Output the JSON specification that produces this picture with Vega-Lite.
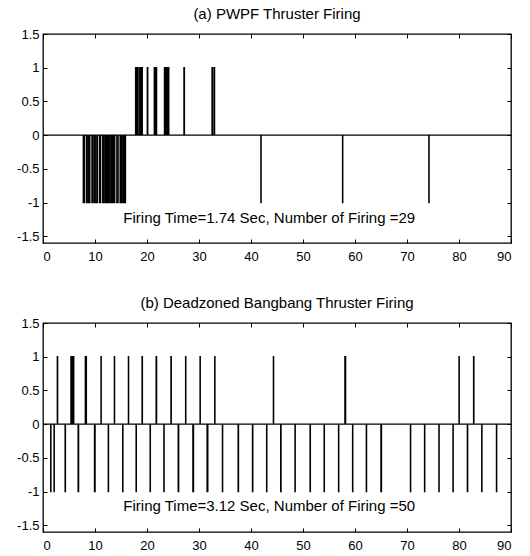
{
  "$schema": "https://vega.github.io/schema/vega-lite/v6.json",
  "padding": {"top": 6, "left": 15, "right": 5, "bottom": 5},
  "spacing": 31,
  "datasets": {
    "a": [
      {"t": 0, "v": 0},
      {"t": 7.74, "v": -1}, {"t": 7.99, "v": 0},
      {"t": 8.37, "v": -1}, {"t": 8.5, "v": 0},
      {"t": 8.76, "v": -1}, {"t": 9.02, "v": 0},
      {"t": 9.41, "v": -1}, {"t": 9.52, "v": 0},
      {"t": 9.8, "v": -1}, {"t": 9.92, "v": 0},
      {"t": 10.18, "v": -1}, {"t": 10.45, "v": 0},
      {"t": 10.84, "v": -1}, {"t": 11.09, "v": 0},
      {"t": 11.48, "v": -1}, {"t": 11.6, "v": 0},
      {"t": 11.87, "v": -1}, {"t": 12.0, "v": 0},
      {"t": 12.12, "v": -1}, {"t": 12.2, "v": 0},
      {"t": 12.3, "v": -1}, {"t": 12.38, "v": 0},
      {"t": 12.48, "v": -1}, {"t": 12.56, "v": 0},
      {"t": 12.66, "v": -1}, {"t": 12.74, "v": 0},
      {"t": 12.82, "v": -1}, {"t": 12.89, "v": 0},
      {"t": 13.16, "v": -1}, {"t": 13.3, "v": 0},
      {"t": 13.55, "v": -1}, {"t": 13.8, "v": 0},
      {"t": 14.19, "v": -1}, {"t": 14.45, "v": 0},
      {"t": 14.83, "v": -1}, {"t": 15.0, "v": 0},
      {"t": 15.22, "v": -1}, {"t": 15.48, "v": 0},
      {"t": 15.7, "v": -1}, {"t": 15.87, "v": 0},
      {"t": 17.8, "v": 1}, {"t": 17.95, "v": 0},
      {"t": 18.15, "v": 1}, {"t": 18.3, "v": 0},
      {"t": 18.6, "v": 1}, {"t": 18.75, "v": 0},
      {"t": 18.95, "v": 1}, {"t": 19.1, "v": 0},
      {"t": 20.05, "v": 1}, {"t": 20.15, "v": 0},
      {"t": 21.4, "v": 1}, {"t": 21.55, "v": 0},
      {"t": 21.7, "v": 1}, {"t": 21.85, "v": 0},
      {"t": 23.35, "v": 1}, {"t": 23.5, "v": 0},
      {"t": 23.75, "v": 1}, {"t": 23.9, "v": 0},
      {"t": 24.05, "v": 1}, {"t": 24.2, "v": 0},
      {"t": 27.1, "v": 1}, {"t": 27.2, "v": 0},
      {"t": 32.5, "v": 1}, {"t": 32.6, "v": 0},
      {"t": 32.9, "v": 1}, {"t": 33.0, "v": 0},
      {"t": 41.9, "v": -1}, {"t": 41.95, "v": 0},
      {"t": 57.6, "v": -1}, {"t": 57.65, "v": 0},
      {"t": 74.2, "v": -1}, {"t": 74.25, "v": 0},
      {"t": 90, "v": 0}
    ],
    "b": [
      {"t": 0, "v": 0},
      {"t": 1.48, "v": -1}, {"t": 1.53, "v": 0},
      {"t": 2.12, "v": -1}, {"t": 2.17, "v": 0},
      {"t": 2.75, "v": 1}, {"t": 2.82, "v": 0},
      {"t": 4.25, "v": -1}, {"t": 4.32, "v": 0},
      {"t": 5.37, "v": 1}, {"t": 5.45, "v": 0},
      {"t": 5.6, "v": 1}, {"t": 5.68, "v": 0},
      {"t": 5.82, "v": 1}, {"t": 5.92, "v": 0},
      {"t": 6.75, "v": -1}, {"t": 6.85, "v": 0},
      {"t": 8.13, "v": 1}, {"t": 8.35, "v": 0},
      {"t": 9.9, "v": -1}, {"t": 10.02, "v": 0},
      {"t": 11.15, "v": 1}, {"t": 11.2, "v": 0},
      {"t": 12.55, "v": -1}, {"t": 12.6, "v": 0},
      {"t": 13.72, "v": 1}, {"t": 13.77, "v": 0},
      {"t": 15.32, "v": -1}, {"t": 15.37, "v": 0},
      {"t": 16.42, "v": 1}, {"t": 16.47, "v": 0},
      {"t": 17.9, "v": -1}, {"t": 17.95, "v": 0},
      {"t": 19.05, "v": 1}, {"t": 19.12, "v": 0},
      {"t": 20.6, "v": -1}, {"t": 20.65, "v": 0},
      {"t": 21.75, "v": 1}, {"t": 21.85, "v": 0},
      {"t": 23.24, "v": -1}, {"t": 23.29, "v": 0},
      {"t": 24.6, "v": 1}, {"t": 24.67, "v": 0},
      {"t": 26.0, "v": -1}, {"t": 26.1, "v": 0},
      {"t": 27.42, "v": 1}, {"t": 27.47, "v": 0},
      {"t": 28.82, "v": -1}, {"t": 28.95, "v": 0},
      {"t": 30.2, "v": 1}, {"t": 30.25, "v": 0},
      {"t": 31.55, "v": -1}, {"t": 31.7, "v": 0},
      {"t": 33.02, "v": 1}, {"t": 33.07, "v": 0},
      {"t": 34.5, "v": -1}, {"t": 34.55, "v": 0},
      {"t": 37.52, "v": -1}, {"t": 37.6, "v": 0},
      {"t": 40.28, "v": -1}, {"t": 40.35, "v": 0},
      {"t": 43.0, "v": -1}, {"t": 43.05, "v": 0},
      {"t": 44.3, "v": 1}, {"t": 44.35, "v": 0},
      {"t": 45.7, "v": -1}, {"t": 45.78, "v": 0},
      {"t": 48.46, "v": -1}, {"t": 48.51, "v": 0},
      {"t": 51.36, "v": -1}, {"t": 51.42, "v": 0},
      {"t": 54.06, "v": -1}, {"t": 54.11, "v": 0},
      {"t": 56.83, "v": -1}, {"t": 56.88, "v": 0},
      {"t": 58.05, "v": 1}, {"t": 58.2, "v": 0},
      {"t": 59.53, "v": -1}, {"t": 59.58, "v": 0},
      {"t": 62.17, "v": -1}, {"t": 62.23, "v": 0},
      {"t": 64.98, "v": -1}, {"t": 65.1, "v": 0},
      {"t": 70.66, "v": -1}, {"t": 70.71, "v": 0},
      {"t": 73.37, "v": -1}, {"t": 73.42, "v": 0},
      {"t": 76.13, "v": -1}, {"t": 76.18, "v": 0},
      {"t": 78.84, "v": -1}, {"t": 78.89, "v": 0},
      {"t": 80.0, "v": 1}, {"t": 80.05, "v": 0},
      {"t": 81.6, "v": -1}, {"t": 81.67, "v": 0},
      {"t": 82.8, "v": 1}, {"t": 82.87, "v": 0},
      {"t": 84.37, "v": -1}, {"t": 84.42, "v": 0},
      {"t": 87.2, "v": -1}, {"t": 87.25, "v": 0},
      {"t": 90, "v": 0}
    ],
    "notes": [
      {"panel": "a", "label": "Firing Time=1.74 Sec, Number of Firing =29"},
      {"panel": "b", "label": "Firing Time=3.12 Sec, Number of Firing =50"}
    ]
  },
  "config": {
    "font": "Liberation Sans",
    "view": {"stroke": "black", "strokeWidth": 1.3},
    "axis": {
      "domain": false, "grid": false, "title": null,
      "tickColor": "black", "tickSize": -4, "tickWidth": 1,
      "labelColor": "black", "labelFontSize": 13, "labelFont": "Liberation Sans",
      "labelPadding": 8
    },
    "axisBottom": {"labelPadding": 11},
    "title": {"fontSize": 15, "fontWeight": "normal", "color": "black", "anchor": "middle", "offset": 6, "font": "Liberation Sans"}
  },
  "vconcat": [
    {
      "title": "(a) PWPF Thruster Firing",
      "width": 468, "height": 209,
      "layer": [
        {
          "data": {"name": "a"},
          "mark": {"type": "line", "interpolate": "step-after", "color": "black", "strokeWidth": 1.3},
          "encoding": {
            "x": {"field": "t", "type": "quantitative", "scale": {"domain": [0, 90], "nice": false, "zero": false},
                  "axis": {"orient": "bottom", "values": [0, 10, 20, 30, 40, 50, 60, 70, 80, 90]}},
            "y": {"field": "v", "type": "quantitative", "scale": {"domain": [-1.6, 1.5], "nice": false, "zero": false},
                  "axis": {"orient": "left", "values": [-1.5, -1, -0.5, 0, 0.5, 1, 1.5],
                           "labelExpr": "datum.value < 0 ? '-' + format(-datum.value, '~g') : format(datum.value, '~g')"}}
          }
        },
        {
          "data": {"name": "notes"},
          "transform": [{"filter": "datum.panel == 'a'"}],
          "mark": {"type": "text", "fontSize": 15, "color": "black", "align": "center", "baseline": "middle", "font": "Liberation Sans"},
          "encoding": {
            "x": {"datum": 43.5, "type": "quantitative",
                  "axis": {"orient": "top", "labels": false, "values": [0, 10, 20, 30, 40, 50, 60, 70, 80, 90]}},
            "y": {"datum": -1.23, "type": "quantitative",
                  "axis": {"orient": "right", "labels": false, "values": [-1.5, -1, -0.5, 0, 0.5, 1, 1.5]}},
            "text": {"field": "label"}
          }
        }
      ],
      "resolve": {"axis": {"x": "independent", "y": "independent"}}
    },
    {
      "title": "(b) Deadzoned Bangbang Thruster Firing",
      "width": 468, "height": 209,
      "layer": [
        {
          "data": {"name": "b"},
          "mark": {"type": "line", "interpolate": "step-after", "color": "black", "strokeWidth": 1.3},
          "encoding": {
            "x": {"field": "t", "type": "quantitative", "scale": {"domain": [0, 90], "nice": false, "zero": false},
                  "axis": {"orient": "bottom", "values": [0, 10, 20, 30, 40, 50, 60, 70, 80, 90]}},
            "y": {"field": "v", "type": "quantitative", "scale": {"domain": [-1.6, 1.5], "nice": false, "zero": false},
                  "axis": {"orient": "left", "values": [-1.5, -1, -0.5, 0, 0.5, 1, 1.5],
                           "labelExpr": "datum.value < 0 ? '-' + format(-datum.value, '~g') : format(datum.value, '~g')"}}
          }
        },
        {
          "data": {"name": "notes"},
          "transform": [{"filter": "datum.panel == 'b'"}],
          "mark": {"type": "text", "fontSize": 15, "color": "black", "align": "center", "baseline": "middle", "font": "Liberation Sans"},
          "encoding": {
            "x": {"datum": 43.5, "type": "quantitative",
                  "axis": {"orient": "top", "labels": false, "values": [0, 10, 20, 30, 40, 50, 60, 70, 80, 90]}},
            "y": {"datum": -1.22, "type": "quantitative",
                  "axis": {"orient": "right", "labels": false, "values": [-1.5, -1, -0.5, 0, 0.5, 1, 1.5]}},
            "text": {"field": "label"}
          }
        }
      ],
      "resolve": {"axis": {"x": "independent", "y": "independent"}}
    }
  ]
}
